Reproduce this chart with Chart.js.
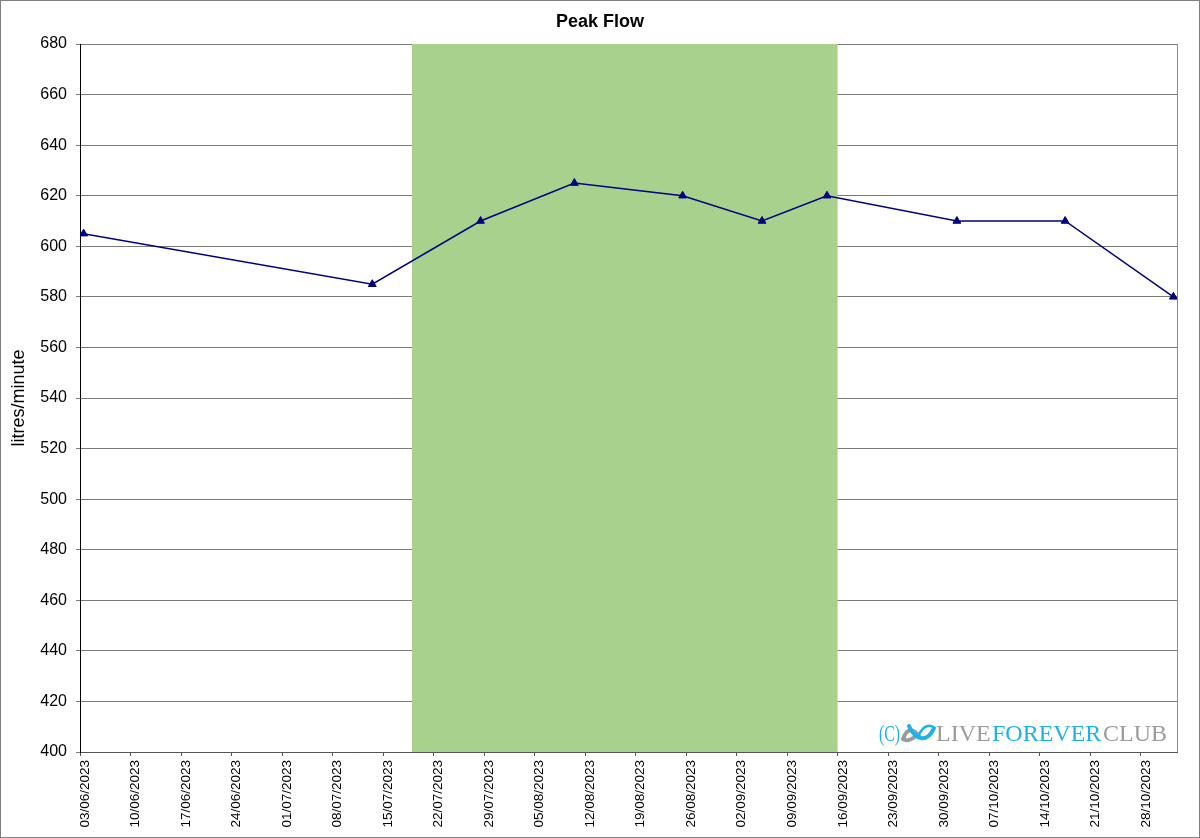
<!DOCTYPE html>
<html>
<head>
<meta charset="utf-8">
<title>Peak Flow</title>
<script src="https://cdn.jsdelivr.net/npm/chart.js@4/dist/chart.umd.min.js"></script>
<style>
  html, body { margin: 0; padding: 0; background: #fff; }
  canvas { display: block; }
</style>
</head>
<body>
<canvas id="chart" width="1200" height="838"></canvas>
<script>
// readings
const readingDates = ['03/06/2023', '13/07/2023', '28/07/2023', '10/08/2023', '25/08/2023',
  '05/09/2023', '14/09/2023', '02/10/2023', '17/10/2023', '01/11/2023'];
const peakFlow = [605, 585, 610, 625, 620, 610, 620, 610, 610, 580];

// shaded period
const highlightStart = '19/07/2023';
const highlightEnd = '16/09/2023';

// axes
const axisStart = '03/06/2023';
const axisEnd = '02/11/2023';
const tickLabels = ['03/06/2023', '10/06/2023', '17/06/2023', '24/06/2023', '01/07/2023',
  '08/07/2023', '15/07/2023', '22/07/2023', '29/07/2023', '05/08/2023', '12/08/2023',
  '19/08/2023', '26/08/2023', '02/09/2023', '09/09/2023', '16/09/2023', '23/09/2023',
  '30/09/2023', '07/10/2023', '14/10/2023', '21/10/2023', '28/10/2023'];
const yMin = 400;
const yMax = 680;
const yStep = 20;

function toDay(str) {
  const [d, m, y] = str.split('/').map(Number);
  return Date.UTC(y, m - 1, d) / 86400000;
}
const day0 = toDay(axisStart);
const dayOffset = str => toDay(str) - day0;

// points sit in the middle of their day, like the spreadsheet's date axis
const linePoints = readingDates.map((d, i) => ({ x: dayOffset(d) + 0.5, y: peakFlow[i] }));
const bandPoints = [
  { x: dayOffset(highlightStart), y: yMax },
  { x: dayOffset(highlightEnd), y: yMax }
];
const tickMap = {};
tickLabels.forEach(l => { tickMap[dayOffset(l)] = l; });

const SANS = '"Liberation Sans", Arial, sans-serif';
const SERIF = '"Liberation Serif", "DejaVu Serif", serif';
const CYAN = '#1eb3e6';
const GREY = '#9b9b9b';

const frame = {
  id: 'frame',
  beforeDraw(chart) {
    const ctx = chart.ctx;
    ctx.save();
    ctx.fillStyle = '#fff';
    ctx.fillRect(0, 0, chart.width, chart.height);
    ctx.restore();
  },
  afterDraw(chart) {
    const ctx = chart.ctx;
    const a = chart.chartArea;
    ctx.save();
    // plot area right edge
    ctx.strokeStyle = '#8c8c8c';
    ctx.lineWidth = 1;
    ctx.beginPath();
    ctx.moveTo(Math.round(a.right) + 0.5, a.top);
    ctx.lineTo(Math.round(a.right) + 0.5, a.bottom);
    ctx.stroke();
    // outer border
    ctx.strokeStyle = '#808080';
    ctx.strokeRect(0.5, 0.5, chart.width - 1, chart.height - 1);

    // watermark
    const base = a.bottom - 11;
    const r = a.right;
    ctx.textBaseline = 'alphabetic';
    ctx.font = '24px ' + SERIF;
    // (C) is narrow in the original
    ctx.save();
    ctx.translate(r - 298, base);
    ctx.scale(0.66, 1);
    ctx.fillStyle = CYAN;
    ctx.fillText('(C)', 0, 0);
    ctx.restore();
    // little infinity logo
    const lx = r - 275, ly = base - 8;
    ctx.lineCap = 'round';
    ctx.strokeStyle = GREY;
    ctx.lineWidth = 4;
    ctx.beginPath();
    ctx.moveTo(lx + 1, ly + 6);
    ctx.bezierCurveTo(lx + 6, ly - 8, lx + 13, ly - 2, lx + 17, ly + 3);
    ctx.stroke();
    ctx.beginPath();
    ctx.moveTo(lx + 1, ly + 6);
    ctx.bezierCurveTo(lx + 5, ly + 9, lx + 12, ly + 6, lx + 15, ly + 1);
    ctx.stroke();
    ctx.strokeStyle = CYAN;
    ctx.beginPath();
    ctx.moveTo(lx + 7, ly - 7);
    ctx.bezierCurveTo(lx + 14, ly + 9, lx + 26, ly + 9, lx + 32, ly - 5);
    ctx.stroke();
    ctx.lineWidth = 2.5;
    ctx.beginPath();
    ctx.moveTo(lx + 17, ly + 2);
    ctx.bezierCurveTo(lx + 21, ly - 8, lx + 29, ly - 9, lx + 32, ly - 5);
    ctx.stroke();
    ctx.fillStyle = GREY;
    ctx.fillText('LIVE', r - 241, base);
    ctx.fillStyle = CYAN;
    ctx.fillText('FOREVER', r - 185, base);
    ctx.fillStyle = GREY;
    ctx.fillText('CLUB', r - 74, base);
    ctx.restore();
  }
};

new Chart(document.getElementById('chart'), {
  type: 'line',
  data: {
    datasets: [
      {
        label: 'Peak Flow',
        data: linePoints,
        borderColor: '#000080',
        borderWidth: 1.5,
        backgroundColor: '#000080',
        pointStyle: 'triangle',
        pointRadius: 4.5,
        pointBorderWidth: 1,
        tension: 0,
        order: 0
      },
      {
        label: 'period',
        data: bandPoints,
        borderWidth: 0,
        borderColor: 'rgba(0,0,0,0)',
        backgroundColor: '#a9d18e',
        pointRadius: 0,
        fill: 'start',
        order: 1
      }
    ]
  },
  options: {
    responsive: false,
    devicePixelRatio: 1,
    animation: false,
    layout: { padding: 0 },
    plugins: {
      legend: { display: false },
      tooltip: { enabled: false },
      title: {
        display: true,
        text: 'Peak Flow',
        color: '#000',
        font: { family: SANS, size: 18, weight: 'bold', lineHeight: 1.2 },
        padding: { top: 11, bottom: 11.4 }
      }
    },
    scales: {
      x: {
        type: 'linear',
        min: 0,
        max: dayOffset(axisEnd),
        z: 1,
        afterBuildTicks: scale => {
          scale.ticks = tickLabels.map(l => ({ value: dayOffset(l) }));
        },
        afterFit: scale => { scale.height = 86; },
        ticks: {
          autoSkip: false,
          minRotation: 90,
          maxRotation: 90,
          labelOffset: 5,
          padding: 4,
          color: '#000',
          font: { family: SANS, size: 13.5 },
          callback: v => tickMap[v] || ''
        },
        grid: {
          drawOnChartArea: false,
          drawTicks: true,
          tickLength: 4,
          color: '#555'
        },
        border: { color: '#555', width: 1 }
      },
      y: {
        min: yMin,
        max: yMax,
        afterFit: scale => { scale.width = 80; },
        ticks: {
          stepSize: yStep,
          padding: 9,
          color: '#000',
          font: { family: SANS, size: 16 }
        },
        grid: {
          color: '#7a7a7a',
          tickLength: 4
        },
        border: { color: '#000', width: 1 },
        title: {
          display: true,
          text: 'litres/minute',
          color: '#000',
          font: { family: SANS, size: 18, lineHeight: 1.2 },
          padding: { top: 8, bottom: 0 }
        }
      },
      // empty right margin so the title centres on the whole canvas
      yRight: {
        position: 'right',
        display: true,
        min: yMin,
        max: yMax,
        afterFit: scale => { scale.width = 23; },
        ticks: { display: false },
        grid: { display: false, drawTicks: false },
        border: { display: false }
      }
    }
  },
  plugins: [frame]
});
</script>
</body>
</html>
